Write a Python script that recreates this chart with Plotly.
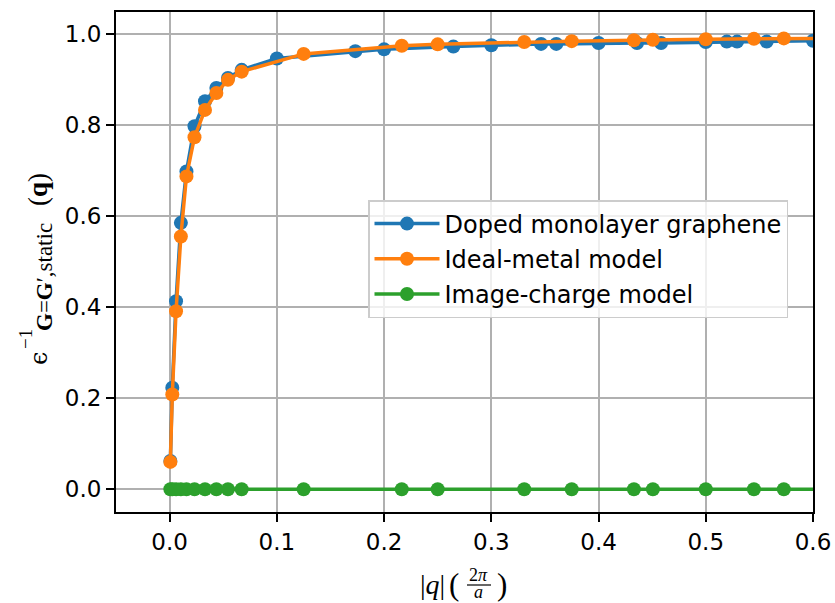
import plotly.graph_objects as go

# ---- data ----
q_small = [0.0007, 0.0025, 0.006, 0.0105, 0.0157, 0.0232, 0.033, 0.0436, 0.0544, 0.0672]

# Doped monolayer graphene
q_graphene = q_small + [0.1, 0.1732, 0.2, 0.2646, 0.3, 0.3464, 0.3606, 0.4, 0.4359,
                        0.4583, 0.5, 0.5196, 0.5292, 0.5568, 0.6, 0.6083]
eps_graphene = [0.062, 0.223, 0.413, 0.585, 0.698, 0.797, 0.852, 0.881, 0.903, 0.921,
                0.946, 0.962, 0.966, 0.972, 0.975, 0.978, 0.978, 0.980, 0.980,
                0.980, 0.982, 0.983, 0.983, 0.983, 0.985, 0.985]

# Ideal-metal model / Image-charge model share the same q points
q_model = q_small + [0.125, 0.2165, 0.25, 0.3307, 0.375, 0.433, 0.4507, 0.5, 0.5449,
                     0.5728, 0.6495]
eps_metal = [0.060, 0.208, 0.391, 0.555, 0.687, 0.773, 0.833, 0.870, 0.899, 0.917,
             0.956, 0.974, 0.977, 0.982, 0.984, 0.986, 0.987, 0.988, 0.989,
             0.990, 0.991]
eps_image = [0.0] * len(q_model)

x_ticks = [0.0, 0.1, 0.2, 0.3, 0.4, 0.5, 0.6]
y_ticks = [0.0, 0.2, 0.4, 0.6, 0.8, 1.0]

names = ["Doped monolayer graphene", "Ideal-metal model", "Image-charge model"]
colors = ["#1f77b4", "#ff7f0e", "#2ca02c"]

# ---- layout geometry (pixels) ----
W, H = 835, 603
L, R, T, B = 116, 813, 12, 512
PW, PH = R - L, B - T


def px(x):
    return (x - L) / PW


def py(y):
    return (B - y) / PH


fig = go.Figure()
series = [(q_graphene, eps_graphene), (q_model, eps_metal), (q_model, eps_image)]
for i, ((xs, ys), name, c) in enumerate(zip(series, names, colors)):
    fig.add_trace(go.Scatter(
        x=xs, y=ys, mode="lines+markers", name=name,
        line=dict(color=c, width=3.5),
        marker=dict(color=c, size=14),
        legendgroup=f"g{i}",
    ))

tickfont = dict(family="DejaVu Sans", size=23, color="black")
axis_common = dict(
    showline=True, linecolor="black", linewidth=1.9, mirror=True,
    showgrid=True, gridcolor="#b0b0b0", gridwidth=1.9,
    ticks="outside", ticklen=8, tickwidth=1.9, tickcolor="black",
    tickfont=tickfont, zeroline=False, automargin=False,
)

fig.update_layout(
    width=W, height=H,
    margin=dict(l=L, r=W - R, t=T, b=H - B),
    paper_bgcolor="white", plot_bgcolor="white",
    xaxis=dict(range=[-0.05, 0.6], tickvals=x_ticks,
               ticktext=[f"{v:.1f}" for v in x_ticks], **axis_common),
    yaxis=dict(range=[-0.05, 1.048], tickvals=y_ticks,
               ticktext=[f"{v:.1f}" for v in y_ticks], **axis_common),
    legend=dict(x=px(368), y=py(200), xanchor="left", yanchor="top",
                bgcolor="rgba(255,255,255,0.8)", bordercolor="#cccccc",
                borderwidth=1.5, font=dict(family="DejaVu Sans", size=24, color="black"),
                tracegroupgap=1, itemwidth=65),
    showlegend=True,
)

serif = "Liberation Serif"
anns = []
# y-axis label pieces (rotated)
anns.append(dict(text="ϵ", x=px(39), y=py(359), font=dict(family="DejaVu Serif", size=24)))
anns.append(dict(text="−1", x=px(25), y=py(339), font=dict(family=serif, size=19)))
anns.append(dict(text="<b>G</b>=<b>G</b>′,static", x=px(44), y=py(277),
                 font=dict(family=serif, size=23)))
anns.append(dict(text="(<b>q</b>)", x=px(38), y=py(190), font=dict(family=serif, size=27)))
for a in anns:
    a["textangle"] = -90

# x-axis label pieces
anns.append(dict(text="|<i>q</i>|", x=px(432), y=py(584), font=dict(family=serif, size=28)))
anns.append(dict(text="(", x=px(454), y=py(584), font=dict(family=serif, size=31)))
anns.append(dict(text="2<i>π</i>", x=px(479), y=py(575), font=dict(family=serif, size=18)))
anns.append(dict(text="<i>a</i>", x=px(479), y=py(592), font=dict(family=serif, size=18)))
anns.append(dict(text=")", x=px(502), y=py(584), font=dict(family=serif, size=31)))

for a in anns:
    a.update(xref="paper", yref="paper", xanchor="center", yanchor="middle",
             showarrow=False)
    a["font"]["color"] = "black"
fig.update_layout(annotations=anns)

fig.add_shape(type="line", xref="paper", yref="paper",
              x0=px(467), x1=px(491), y0=py(585), y1=py(585),
              line=dict(color="black", width=1.2))

fig.write_html("out.html")
